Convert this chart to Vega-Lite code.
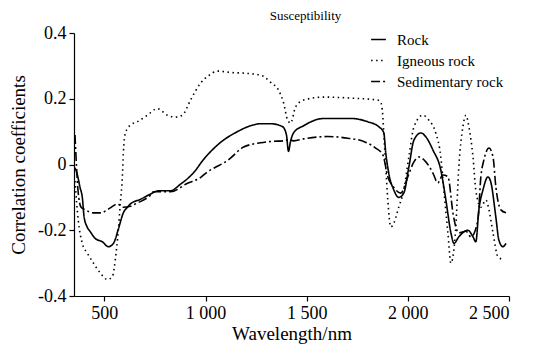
{
  "$schema": "https://vega.github.io/schema/vega-lite/v6.json",
  "autosize": {"type": "none"},
  "padding": {"left": 74, "top": 33, "right": 25, "bottom": 51},
  "width": 435,
  "height": 263,
  "background": "white",
  "title": {"text": "Susceptibility", "font": "Times New Roman, Liberation Serif, serif", "fontSize": 13, "fontWeight": "normal", "color": "black", "anchor": "middle", "dx": 14, "offset": 1},
  "datasets": {
    "rock": [
      {"wl": 355, "r": -0.01}, {"wl": 366, "r": -0.03}, {"wl": 380, "r": -0.07}, {"wl": 391, "r": -0.1},
      {"wl": 400, "r": -0.16}, {"wl": 415, "r": -0.19}, {"wl": 431, "r": -0.205}, {"wl": 455, "r": -0.225},
      {"wl": 490, "r": -0.235}, {"wl": 520, "r": -0.25}, {"wl": 545, "r": -0.24}, {"wl": 569, "r": -0.197},
      {"wl": 594, "r": -0.147}, {"wl": 614, "r": -0.13}, {"wl": 629, "r": -0.12}, {"wl": 678, "r": -0.106},
      {"wl": 728, "r": -0.09}, {"wl": 767, "r": -0.08}, {"wl": 800, "r": -0.08}, {"wl": 827, "r": -0.08},
      {"wl": 876, "r": -0.06}, {"wl": 941, "r": -0.025}, {"wl": 990, "r": 0.015}, {"wl": 1074, "r": 0.067},
      {"wl": 1158, "r": 0.1}, {"wl": 1223, "r": 0.118}, {"wl": 1272, "r": 0.124}, {"wl": 1322, "r": 0.124},
      {"wl": 1381, "r": 0.115}, {"wl": 1400, "r": 0.09}, {"wl": 1410, "r": 0.04}, {"wl": 1420, "r": 0.07},
      {"wl": 1436, "r": 0.097}, {"wl": 1485, "r": 0.118}, {"wl": 1584, "r": 0.14}, {"wl": 1718, "r": 0.14},
      {"wl": 1802, "r": 0.13}, {"wl": 1856, "r": 0.115}, {"wl": 1881, "r": 0.097}, {"wl": 1891, "r": 0.035},
      {"wl": 1906, "r": -0.027}, {"wl": 1931, "r": -0.078}, {"wl": 1955, "r": -0.1}, {"wl": 1980, "r": -0.087},
      {"wl": 2005, "r": -0.008}, {"wl": 2030, "r": 0.074}, {"wl": 2064, "r": 0.096}, {"wl": 2089, "r": 0.084},
      {"wl": 2124, "r": 0.044}, {"wl": 2163, "r": -0.017}, {"wl": 2188, "r": -0.108}, {"wl": 2213, "r": -0.208},
      {"wl": 2228, "r": -0.24}, {"wl": 2252, "r": -0.22}, {"wl": 2297, "r": -0.2}, {"wl": 2322, "r": -0.22},
      {"wl": 2336, "r": -0.235}, {"wl": 2351, "r": -0.138}, {"wl": 2371, "r": -0.078}, {"wl": 2396, "r": -0.038},
      {"wl": 2411, "r": -0.056}, {"wl": 2435, "r": -0.16}, {"wl": 2450, "r": -0.23}, {"wl": 2470, "r": -0.25},
      {"wl": 2485, "r": -0.24}
    ],
    "igneous": [
      {"wl": 355, "r": -0.05}, {"wl": 371, "r": -0.17}, {"wl": 391, "r": -0.24}, {"wl": 416, "r": -0.27},
      {"wl": 446, "r": -0.3}, {"wl": 480, "r": -0.33}, {"wl": 515, "r": -0.35}, {"wl": 540, "r": -0.34},
      {"wl": 554, "r": -0.29}, {"wl": 569, "r": -0.2}, {"wl": 579, "r": -0.118}, {"wl": 589, "r": -0.038},
      {"wl": 594, "r": 0.035}, {"wl": 604, "r": 0.096}, {"wl": 629, "r": 0.12}, {"wl": 663, "r": 0.13},
      {"wl": 713, "r": 0.15}, {"wl": 762, "r": 0.17}, {"wl": 812, "r": 0.15}, {"wl": 851, "r": 0.144},
      {"wl": 886, "r": 0.15}, {"wl": 926, "r": 0.196}, {"wl": 975, "r": 0.247}, {"wl": 1015, "r": 0.27},
      {"wl": 1059, "r": 0.284}, {"wl": 1124, "r": 0.28}, {"wl": 1208, "r": 0.277}, {"wl": 1272, "r": 0.272},
      {"wl": 1322, "r": 0.25}, {"wl": 1361, "r": 0.226}, {"wl": 1386, "r": 0.187}, {"wl": 1406, "r": 0.135},
      {"wl": 1421, "r": 0.126}, {"wl": 1445, "r": 0.175}, {"wl": 1485, "r": 0.196}, {"wl": 1584, "r": 0.205},
      {"wl": 1718, "r": 0.202}, {"wl": 1851, "r": 0.196}, {"wl": 1866, "r": 0.19}, {"wl": 1876, "r": 0.15},
      {"wl": 1881, "r": 0.096}, {"wl": 1891, "r": -0.008}, {"wl": 1901, "r": -0.108}, {"wl": 1916, "r": -0.19},
      {"wl": 1931, "r": -0.178}, {"wl": 1955, "r": -0.13}, {"wl": 1980, "r": -0.078}, {"wl": 2005, "r": 0.023},
      {"wl": 2030, "r": 0.114}, {"wl": 2074, "r": 0.15}, {"wl": 2104, "r": 0.135}, {"wl": 2138, "r": 0.096},
      {"wl": 2163, "r": 0.023}, {"wl": 2178, "r": -0.078}, {"wl": 2198, "r": -0.208}, {"wl": 2213, "r": -0.3},
      {"wl": 2223, "r": -0.28}, {"wl": 2237, "r": -0.19}, {"wl": 2252, "r": -0.008}, {"wl": 2272, "r": 0.114},
      {"wl": 2287, "r": 0.15}, {"wl": 2302, "r": 0.114}, {"wl": 2322, "r": 0.023}, {"wl": 2336, "r": -0.078},
      {"wl": 2361, "r": -0.13}, {"wl": 2386, "r": -0.108}, {"wl": 2401, "r": -0.138}, {"wl": 2421, "r": -0.208},
      {"wl": 2445, "r": -0.28}, {"wl": 2475, "r": -0.29}
    ],
    "sed": [
      {"wl": 355, "r": 0.09}, {"wl": 362, "r": 0.0}, {"wl": 370, "r": -0.08}, {"wl": 385, "r": -0.13},
      {"wl": 406, "r": -0.138}, {"wl": 446, "r": -0.147}, {"wl": 480, "r": -0.147}, {"wl": 530, "r": -0.132},
      {"wl": 564, "r": -0.12}, {"wl": 594, "r": -0.13}, {"wl": 629, "r": -0.127}, {"wl": 663, "r": -0.117},
      {"wl": 678, "r": -0.113}, {"wl": 728, "r": -0.093}, {"wl": 743, "r": -0.083}, {"wl": 827, "r": -0.083},
      {"wl": 911, "r": -0.057}, {"wl": 975, "r": -0.04}, {"wl": 1010, "r": -0.022}, {"wl": 1045, "r": -0.01},
      {"wl": 1109, "r": 0.012}, {"wl": 1188, "r": 0.053}, {"wl": 1272, "r": 0.066}, {"wl": 1322, "r": 0.07},
      {"wl": 1386, "r": 0.072}, {"wl": 1406, "r": 0.075}, {"wl": 1436, "r": 0.072}, {"wl": 1485, "r": 0.078},
      {"wl": 1604, "r": 0.085}, {"wl": 1703, "r": 0.08}, {"wl": 1782, "r": 0.07}, {"wl": 1841, "r": 0.05},
      {"wl": 1876, "r": 0.03}, {"wl": 1901, "r": -0.037}, {"wl": 1931, "r": -0.07}, {"wl": 1965, "r": -0.087},
      {"wl": 2000, "r": -0.037}, {"wl": 2030, "r": 0.008}, {"wl": 2054, "r": 0.023}, {"wl": 2089, "r": 0.008},
      {"wl": 2124, "r": -0.026}, {"wl": 2148, "r": -0.056}, {"wl": 2173, "r": -0.032}, {"wl": 2198, "r": -0.037},
      {"wl": 2223, "r": -0.147}, {"wl": 2237, "r": -0.19}, {"wl": 2252, "r": -0.208}, {"wl": 2287, "r": -0.203},
      {"wl": 2312, "r": -0.22}, {"wl": 2346, "r": -0.17}, {"wl": 2361, "r": -0.037}, {"wl": 2376, "r": 0.014},
      {"wl": 2401, "r": 0.05}, {"wl": 2421, "r": 0.023}, {"wl": 2435, "r": -0.068}, {"wl": 2460, "r": -0.138},
      {"wl": 2485, "r": -0.147}
    ]
  },
  "layer": [
    {
      "data": {"name": "rock"},
      "transform": [{"calculate": "'Rock'", "as": "series"}],
      "mark": {"type": "line", "interpolate": "monotone", "strokeWidth": 1.6, "color": "black"},
      "encoding": {
        "x": {"field": "wl", "type": "quantitative"},
        "y": {"field": "r", "type": "quantitative"},
        "strokeDash": {"field": "series", "type": "nominal"}
      }
    },
    {
      "data": {"name": "igneous"},
      "transform": [{"calculate": "'Igneous rock'", "as": "series"}],
      "mark": {"type": "line", "interpolate": "monotone", "strokeWidth": 1.6, "color": "black"},
      "encoding": {
        "x": {"field": "wl", "type": "quantitative"},
        "y": {"field": "r", "type": "quantitative"},
        "strokeDash": {"field": "series", "type": "nominal"}
      }
    },
    {
      "data": {"name": "sed"},
      "transform": [{"calculate": "'Sedimentary rock'", "as": "series"}],
      "mark": {"type": "line", "interpolate": "monotone", "strokeWidth": 1.6, "color": "black"},
      "encoding": {
        "x": {
          "field": "wl", "type": "quantitative",
          "scale": {"domain": [350, 2500], "nice": false, "zero": false},
          "axis": {"values": [500, 1000, 1500, 2000, 2500], "title": "Wavelength/nm",
                   "labelExpr": "replace(format(datum.value, ','), ',', ' ')"}
        },
        "y": {
          "field": "r", "type": "quantitative",
          "scale": {"domain": [-0.4, 0.4], "nice": false},
          "axis": {"values": [-0.4, -0.2, 0, 0.2, 0.4], "title": "Correlation coefficients",
                   "labelExpr": "datum.value == 0 ? '0' : (datum.value < 0 ? '-' + format(-datum.value, '.1f') : format(datum.value, '.1f'))"}
        },
        "strokeDash": {
          "field": "series", "type": "nominal",
          "scale": {"domain": ["Rock", "Igneous rock", "Sedimentary rock"],
                    "range": [[1, 0], [1.5, 3.5], [9, 3, 2, 3]]},
          "legend": {"title": null, "orient": "none", "legendX": 296, "legendY": -2,
                     "labelFont": "Times New Roman, Liberation Serif, serif", "labelFontSize": 15, "labelColor": "black",
                     "symbolType": "stroke", "symbolSize": 220, "symbolStrokeWidth": 1.6,
                     "symbolStrokeColor": "black", "rowPadding": 4, "labelOffset": 10}
        }
      }
    }
  ],
  "config": {
    "font": "Times New Roman, Liberation Serif, serif",
    "view": {"stroke": null},
    "axis": {
      "grid": false, "domainColor": "black", "domainWidth": 1.2, "tickColor": "black", "tickWidth": 1.2,
      "tickSize": 5, "labelFont": "Times New Roman, Liberation Serif, serif", "labelFontSize": 18, "labelColor": "black",
      "titleFont": "Times New Roman, Liberation Serif, serif", "titleFontSize": 19, "titleFontWeight": "normal", "titleColor": "black"
    },
    "axisX": {"labelPadding": 3, "titlePadding": 2},
    "axisY": {"labelPadding": 3, "titlePadding": 9}
  }
}
